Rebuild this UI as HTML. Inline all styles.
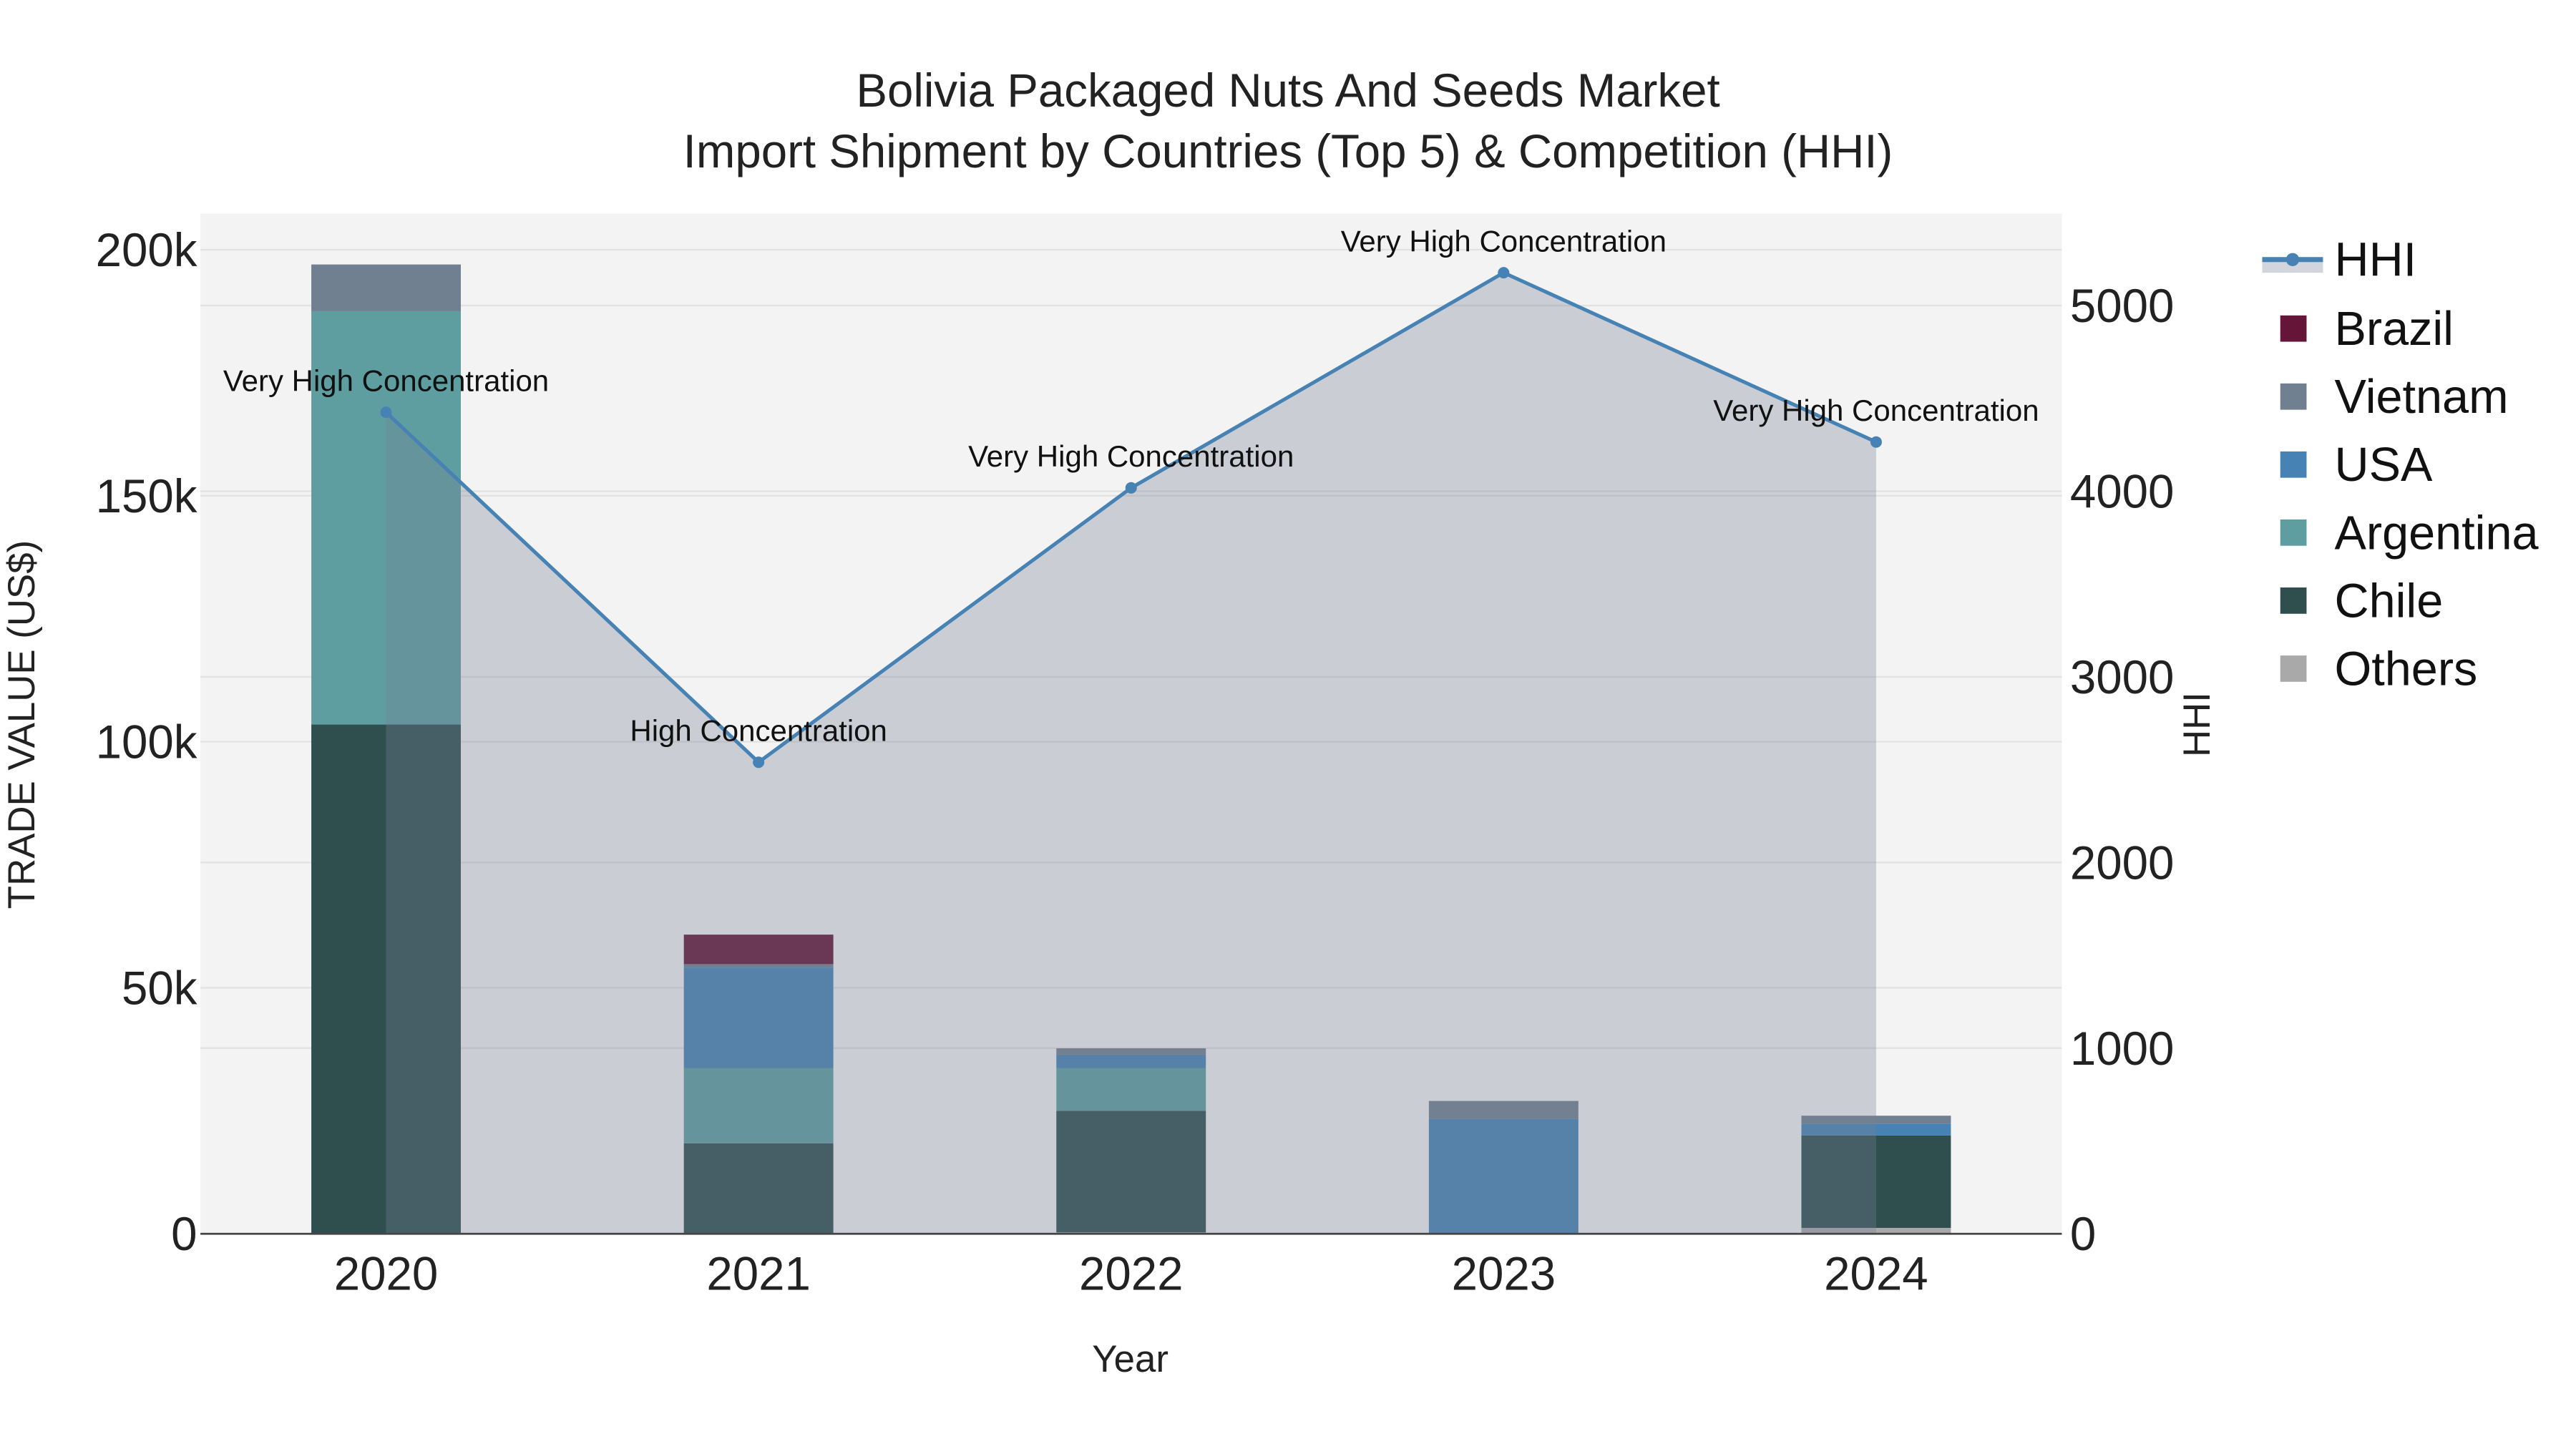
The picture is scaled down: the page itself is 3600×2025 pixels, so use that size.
<!DOCTYPE html>
<html><head><meta charset="utf-8"><style>
html,body{margin:0;padding:0;background:#fff;}
svg{display:block;font-family:"Liberation Sans",Arial,sans-serif;}
</style></head><body>
<svg id="chart" width="3600" height="2025" viewBox="0 0 1568 882" xmlns="http://www.w3.org/2000/svg">
<rect x="0" y="0" width="1568" height="882" fill="#fff"/>
<rect x="122" y="130" width="1133" height="621" fill="#f3f3f3"/>
<g id="grid"></g>
<g id="bars"></g>
<g id="hhi"></g>
<g id="axes"></g>
<text x="784" y="65" text-anchor="middle" font-size="28.5" fill="#222">Bolivia Packaged Nuts And Seeds Market</text>
<text x="784" y="102" text-anchor="middle" font-size="28.5" fill="#222">Import Shipment by Countries (Top 5) &amp; Competition (HHI)</text>
<text x="688" y="835" text-anchor="middle" font-size="23" fill="#222">Year</text>
<text transform="translate(21,441) rotate(-90)" text-anchor="middle" font-size="23" fill="#222">TRADE VALUE (US$)</text>
<text transform="translate(1345,441) rotate(-90)" text-anchor="middle" font-size="23" fill="#222">HHI</text>
<g id="legend"></g>
</svg>
<script>
const years = ["2020","2021","2022","2023","2024"];
const seriesNames = ["Others","Chile","Argentina","USA","Vietnam","Brazil"];
const others = [0, 0, 300, 0, 1200];
const chile = [103500, 18400, 24700, 0, 18800];
const argentina = [84000, 15300, 8700, 0, 0];
const usa = [0, 20400, 2700, 23400, 2400];
const vietnam = [9500, 700, 1300, 3600, 1600];
const brazil = [0, 6000, 0, 0, 0];
const hhi = [4425, 2540, 4018, 5177, 4265];
const hhiLabels = ["Very High Concentration","High Concentration","Very High Concentration","Very High Concentration","Very High Concentration"];
const yTicks = [0, 50000, 100000, 150000, 200000];
const yTickLabels = ["0","50k","100k","150k","200k"];
const y2Ticks = [0,1000,2000,3000,4000,5000];
const y2TickLabels = ["0","1000","2000","3000","4000","5000"];

const colors = {Others:"#a9a9a9",Chile:"#2f4f4f",Argentina:"#5f9ea0",USA:"#4682b4",Vietnam:"#708090",Brazil:"#651537"};
const seriesData = {Others:others,Chile:chile,Argentina:argentina,USA:usa,Vietnam:vietnam,Brazil:brazil};
const NS="http://www.w3.org/2000/svg";
const X0=122,X1=1255,Y0=751;
function xPos(i){return 235+i*226.75;}
function yL(v){return Y0-v*(599/200000);}
function yR(v){return Y0-v*(565/5000);}
function mk(tag,attrs,parent){const e=document.createElementNS(NS,tag);for(const k in attrs)e.setAttribute(k,attrs[k]);parent.appendChild(e);return e;}
const grid=document.getElementById('grid'),bars=document.getElementById('bars'),hg=document.getElementById('hhi'),axes=document.getElementById('axes'),leg=document.getElementById('legend');

yTicks.forEach((t,i)=>{
  if(t>0){const l=mk('line',{x1:X0,x2:X1,y1:yL(t),y2:yL(t),stroke:"#e2e2e2","stroke-width":1},grid);
  
  }
  const tx=mk('text',{x:120,y:yL(t)+10,"text-anchor":"end","font-size":28.5,fill:"#222"},axes);tx.textContent=yTickLabels[i];
  
  
});
y2Ticks.forEach((t,i)=>{
  if(t>0){const l=mk('line',{x1:X0,x2:X1,y1:yR(t),y2:yR(t),stroke:"#e2e2e2","stroke-width":1},grid);
  
  }
  const tx=mk('text',{x:1260,y:yR(t)+10,"text-anchor":"start","font-size":28.5,fill:"#222"},axes);tx.textContent=y2TickLabels[i];
  
  
});
years.forEach((y,i)=>{
  const tx=mk('text',{x:xPos(i),y:785,"text-anchor":"middle","font-size":28.5,fill:"#222"},axes);tx.textContent=y;
  
  
});
const ax=mk('line',{x1:X0,x2:X1,y1:Y0,y2:Y0,stroke:"#444","stroke-width":1.2},axes);



years.forEach((y,i)=>{
  let cum=0;
  seriesNames.forEach(s=>{
    const v=seriesData[s][i];
    if(v>0){
      const r=mk('rect',{x:xPos(i)-45.5,y:yL(cum+v),width:91,height:yL(cum)-yL(cum+v),fill:colors[s]},bars);
      
      
    }
    cum+=v;
  });
});

let d="M"+xPos(0)+","+Y0;
hhi.forEach((v,i)=>{d+=" L"+xPos(i)+","+yR(v);});
d+=" L"+xPos(hhi.length-1)+","+Y0+" Z";
const area=mk('path',{d:d,fill:"rgb(119,128,148)","fill-opacity":0.33},hg);


const pts=hhi.map((v,i)=>xPos(i)+","+yR(v)).join(" ");
const line=mk('polyline',{points:pts,fill:"none",stroke:"#4682b4","stroke-width":2.2},hg);


hhi.forEach((v,i)=>{
  const c=mk('circle',{cx:xPos(i),cy:yR(v),r:3.5,fill:"#4682b4"},hg);
  
  
  const t=mk('text',{x:xPos(i),y:yR(v)-13,"text-anchor":"middle","font-size":18.3,fill:"#111"},hg);t.textContent=hhiLabels[i];
  
  
});

const lg1=mk('rect',{x:1377,y:158,width:37,height:8,fill:"rgb(119,128,148)","fill-opacity":0.33},leg);


const lg2=mk('line',{x1:1377,x2:1414,y1:158,y2:158,stroke:"#4682b4","stroke-width":3},leg);


const lg3=mk('circle',{cx:1395.5,cy:158,r:4,fill:"#4682b4"},leg);


const lt=mk('text',{x:1421,y:168,"font-size":29,fill:"#111"},leg);lt.textContent="HHI";


["Brazil","Vietnam","USA","Argentina","Chile","Others"].forEach((s,i)=>{
  const cy=200+i*41.4;
  const r=mk('rect',{x:1388,y:cy-8,width:16,height:16,fill:colors[s]},leg);
  
  
  const t=mk('text',{x:1421,y:cy+10,"font-size":29,fill:"#111"},leg);t.textContent=s;
  
  
});
</script>
</body></html>
